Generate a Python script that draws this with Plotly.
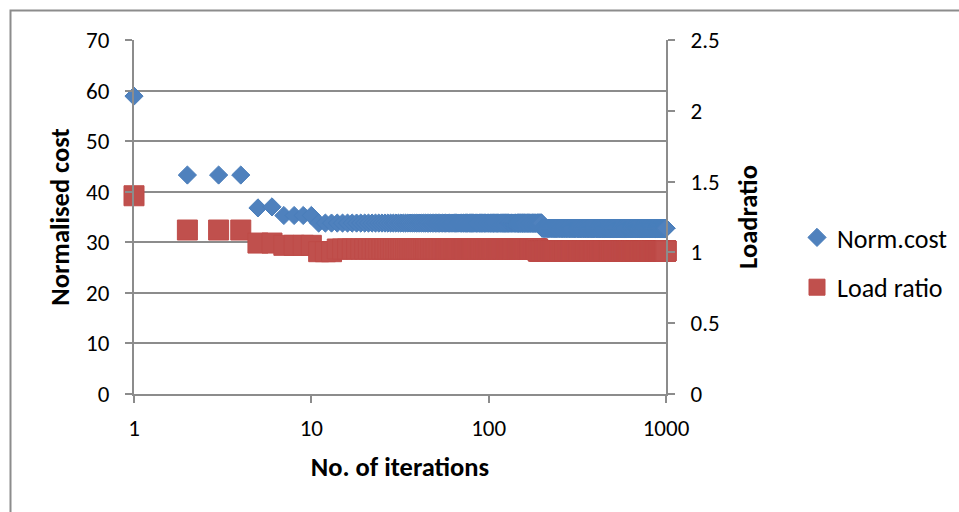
import numpy as np
import plotly.graph_objects as go

# ---- data (step readings: first iteration of each level) ----
max_iter = 1000
cost_seg_start = [1, 2, 5, 6, 7, 11, 200]
cost_seg_value = [58.9, 43.3, 36.8, 37.0, 35.3, 33.8, 32.8]
load_seg_start = [1, 2, 5, 7, 11, 14, 190]
load_seg_value = [1.40, 1.158, 1.066, 1.05, 1.005, 1.024, 1.01]

x_tick_vals = [1, 10, 100, 1000]
x_tick_text = ["1", "10", "100", "1000"]
y_left_ticks = [0, 10, 20, 30, 40, 50, 60, 70]
y_right_ticks = [0, 0.5, 1, 1.5, 2, 2.5]
y_right_text = ["0", "0.5", "1", "1.5", "2", "2.5"]


def expand(starts, values, last):
    ends = starts[1:] + [last + 1]
    lengths = [e - s for s, e in zip(starts, ends)]
    return np.repeat(values, lengths)


iterations = np.arange(1, max_iter + 1)
norm_cost = expand(cost_seg_start, cost_seg_value, max_iter)
load_ratio = expand(load_seg_start, load_seg_value, max_iter)

FONT = "Carlito, Calibri, Lato, sans-serif"
GRID = "#8c8c8c"
BLUE = "#4F81BD"
RED = "#C0504D"

fig = go.Figure()
fig.add_trace(go.Scatter(
    x=iterations, y=norm_cost, mode="markers", name="Norm.cost",
    legendgroup="a", cliponaxis=False,
    marker=dict(symbol="diamond", size=14, color=BLUE, line=dict(width=1, color="#4A7EBB")),
    yaxis="y",
))
fig.add_trace(go.Scatter(
    x=iterations, y=load_ratio, mode="markers", name="Load ratio",
    legendgroup="b", cliponaxis=False,
    marker=dict(symbol="square", size=20, color=RED, line=dict(width=1, color="#BE4B48")),
    yaxis="y2",
))

# outer chart border (only top and left edges fall inside the window)
L, R, T, B = 134, 666, 40, 394
def px_x(p):
    return (p - L) / (R - L)
def px_y(p):
    return (B - p) / (B - T)

fig.add_shape(type="rect", xref="paper", yref="paper",
              x0=px_x(10.5), x1=px_x(990), y0=px_y(530), y1=px_y(10.5),
              line=dict(color=GRID, width=2), fillcolor="rgba(0,0,0,0)", layer="below")

TICKFONT = dict(family=FONT, size=23, color="black")
TITLEFONT = dict(family=FONT, size=26.5, color="black")

fig.update_layout(
    width=959, height=512,
    margin=dict(l=L, r=959 - R, t=T, b=512 - B, autoexpand=False),
    paper_bgcolor="white", plot_bgcolor="white",
    font=dict(family=FONT, size=22, color="black"),
    showlegend=True,
    legend=dict(x=px_x(797), xanchor="left", y=px_y(214), yanchor="top",
                tracegroupgap=13, font=dict(family=FONT, size=26, color="black"),
                bgcolor="rgba(0,0,0,0)"),
    xaxis=dict(
        type="log", range=[0, 3], tickvals=x_tick_vals, ticktext=x_tick_text,
        showgrid=False, zeroline=False, showline=True, linecolor=GRID, linewidth=2,
        ticks="outside", ticklen=7, tickwidth=2, tickcolor=GRID,
        tickfont=TICKFONT, ticklabelstandoff=5, automargin=False,
        title=dict(text="<b>No. of iterations</b>", standoff=17, font=TITLEFONT),
    ),
    yaxis=dict(
        range=[0, 70], tickvals=y_left_ticks,
        showgrid=True, gridcolor=GRID, gridwidth=2, zeroline=False,
        showline=True, linecolor=GRID, linewidth=2,
        ticks="outside", ticklen=7, tickwidth=2, tickcolor=GRID,
        tickfont=TICKFONT, ticklabelstandoff=11, automargin=False,
        title=dict(text="<b>Normalised cost</b>", standoff=9, font=TITLEFONT),
    ),
    yaxis2=dict(
        range=[0, 2.5], tickvals=y_right_ticks, ticktext=y_right_text,
        overlaying="y", side="right", showgrid=False, zeroline=False,
        showline=True, linecolor=GRID, linewidth=2,
        ticks="outside", ticklen=7, tickwidth=2, tickcolor=GRID,
        tickfont=TICKFONT, ticklabelstandoff=11, automargin=False,
        title=dict(text="<b>Loadratio</b>", standoff=20, font=TITLEFONT),
    ),
)

fig.write_html("out.html")
